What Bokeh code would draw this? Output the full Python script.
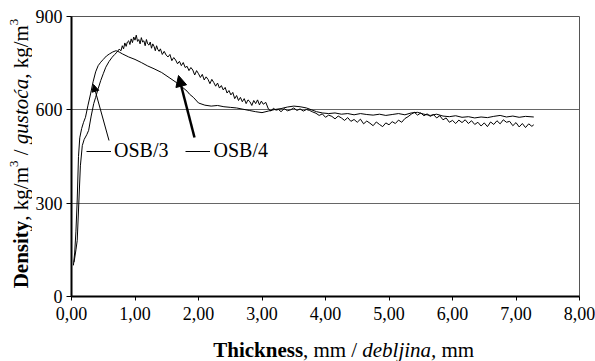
import math
from bokeh.plotting import figure
from bokeh.layouts import row, column
from bokeh.models import (FixedTicker, Label, Arrow, NormalHead, Legend, LegendItem, Range1d)
from bokeh.embed import file_html
from bokeh.resources import INLINE

# ---------------- data ----------------
x_ticks = [0, 1, 2, 3, 4, 5, 6, 7, 8]
x_tick_labels = ["0,00", "1,00", "2,00", "3,00", "4,00", "5,00", "6,00", "7,00", "8,00"]
y_ticks = [0, 300, 600, 900]
series_names = ["OSB/3", "OSB/4"]

osb3_x = [0.03, 0.05, 0.07, 0.09, 0.11, 0.13, 0.16, 0.19, 0.22, 0.26, 0.30, 0.34, 0.38, 0.42,
          0.46, 0.50, 0.55, 0.60, 0.65, 0.70, 0.75, 0.80, 0.90, 1.00, 1.10, 1.20, 1.30, 1.42,
          1.55, 1.65, 1.75, 1.82, 1.86, 1.92, 2.00, 2.10, 2.20, 2.30, 2.40, 2.50, 2.60, 2.70,
          2.80, 2.90, 3.00, 3.10, 3.20, 3.30, 3.40, 3.50, 3.60, 3.70, 3.78, 3.86, 3.95, 4.05,
          4.15, 4.25, 4.35, 4.45, 4.55, 4.65, 4.75, 4.85, 4.95, 5.05, 5.15, 5.25, 5.35, 5.45,
          5.55, 5.65, 5.75, 5.85, 5.95, 6.05, 6.15, 6.25, 6.35, 6.45, 6.55, 6.65, 6.75, 6.85,
          6.95, 7.05, 7.15, 7.28]
osb3_y = [100, 140, 210, 310, 450, 510, 540, 560, 576, 615, 651, 690, 722, 742,
          753, 762, 773, 780, 786, 790, 786, 780, 770, 762, 752, 741, 732, 720,
          702, 688, 672, 660, 650, 640, 622, 615, 612, 614, 610, 608, 606, 602,
          598, 594, 591, 596, 601, 604, 609, 612, 610, 606, 600, 594, 590, 588,
          590, 586, 588, 584, 588, 585, 583, 586, 582, 585, 588, 584, 590, 592,
          586, 582, 586, 580, 578, 581, 576, 578, 574, 577, 575, 579, 582, 577,
          580, 576, 579, 577]

osb4_x = [0.04, 0.07, 0.09, 0.115, 0.14, 0.17, 0.20, 0.24, 0.27, 0.31, 0.35, 0.38, 0.42, 0.46,
          0.50, 0.54, 0.59, 0.64, 0.68, 0.72, 0.75, 0.78, 0.80, 0.82, 0.84, 0.86, 0.88, 0.90,
          0.92, 0.94, 0.96, 0.98, 1.00, 1.02, 1.04, 1.06, 1.08, 1.10, 1.12, 1.14, 1.16, 1.18,
          1.20, 1.22, 1.24, 1.26, 1.28, 1.30, 1.32, 1.34, 1.36, 1.38, 1.40, 1.43, 1.46, 1.49,
          1.52, 1.55, 1.58, 1.61, 1.64, 1.67, 1.70, 1.73, 1.76, 1.79, 1.82, 1.85, 1.88, 1.91,
          1.94, 1.97, 2.00, 2.03, 2.06, 2.09, 2.12, 2.15, 2.18, 2.21, 2.24, 2.27, 2.30, 2.33,
          2.36, 2.39, 2.42, 2.45, 2.48, 2.51, 2.54, 2.57, 2.60, 2.63, 2.66, 2.69, 2.72, 2.75,
          2.78, 2.81, 2.84, 2.87, 2.90, 2.93, 2.96, 2.99, 3.02, 3.06, 3.10, 3.14, 3.18, 3.22,
          3.26, 3.30, 3.35, 3.40, 3.45, 3.50, 3.55, 3.60, 3.65, 3.70, 3.75, 3.80, 3.85, 3.90,
          3.95, 4.00, 4.05, 4.10, 4.15, 4.20, 4.25, 4.30, 4.35, 4.40, 4.45, 4.50, 4.55, 4.60,
          4.65, 4.70, 4.75, 4.80, 4.85, 4.90, 4.95, 5.00, 5.05, 5.10, 5.15, 5.20, 5.25, 5.30,
          5.35, 5.40, 5.45, 5.50, 5.55, 5.60, 5.65, 5.70, 5.75, 5.80, 5.85, 5.90, 5.95, 6.00,
          6.05, 6.10, 6.15, 6.20, 6.25, 6.30, 6.35, 6.40, 6.45, 6.50, 6.55, 6.60, 6.65, 6.70,
          6.75, 6.80, 6.85, 6.90, 6.95, 7.00, 7.05, 7.10, 7.15, 7.20, 7.25, 7.28]
osb4_y = [110, 150, 180, 300, 420, 485, 505, 520, 534, 580, 620, 640, 668, 694,
          716, 737, 755, 769, 778, 786, 795, 790, 806, 796, 815, 804, 818, 822,
          810, 828, 816, 834, 824, 840, 820, 826, 812, 832, 818, 822, 806, 826,
          812, 808, 818, 798, 812, 804, 790, 806, 794, 788, 796, 778, 788, 776,
          770, 778, 758, 768, 760, 748, 756, 742, 752, 736, 740, 726, 736, 728,
          712, 726, 716, 704, 714, 696, 706, 698, 684, 698, 688, 676, 686, 670,
          678, 664, 672, 654, 662, 648, 656, 636, 646, 630, 640, 626, 636, 620,
          632, 626, 614, 630, 620, 632, 616, 628, 618, 624, 603, 596, 605, 599,
          601, 594, 604, 597, 600, 606, 598, 603, 596, 601, 598, 593, 589, 582,
          587, 576, 583, 579, 571, 580, 574, 566, 575, 563, 569, 560, 570, 555,
          564, 557, 549, 561, 553, 546, 558, 552, 562, 556, 567, 560, 572, 578,
          586, 592, 583, 590, 581, 587, 579, 585, 574, 581, 568, 574, 560, 566,
          556, 567, 559, 568, 556, 565, 553, 560, 548, 558, 546, 561, 553, 565,
          555, 568, 560, 563, 549, 559, 545, 556, 543, 555, 547, 552]

# ---------------- layout geometry (page pixels) ----------------
FONT = "Liberation Serif"
YL_W = 32                   # strip holding the rotated y title
MAIN_W, MAIN_H = 563, 336
FRAME_L, FRAME_R, FRAME_T, FRAME_B = 70, 578, 16, 296
XL_H = 361 - MAIN_H
BASE_FIX = 7                # Bokeh draws the alphabetic baseline ~7px further out

# ---------------- main chart ----------------
p = figure(width=MAIN_W, height=MAIN_H, frame_width=FRAME_R - FRAME_L,
           frame_height=FRAME_B - FRAME_T,
           x_range=Range1d(0, 8), y_range=Range1d(0, 900),
           output_backend="svg", toolbar_location=None,
           min_border_left=FRAME_L - YL_W, min_border_right=595 - FRAME_R,
           min_border_top=FRAME_T, min_border_bottom=MAIN_H - FRAME_B)
p.background_fill_color = "white"
p.border_fill_color = "white"
p.outline_line_color = "#555555"
p.outline_line_width = 1

p.xgrid.visible = False
p.ygrid.ticker = FixedTicker(ticks=[300, 600])
p.ygrid.grid_line_color = "#666666"
p.ygrid.grid_line_width = 1

xa = p.xaxis[0]
xa.ticker = FixedTicker(ticks=x_ticks)
xa.major_label_overrides = {t: s for t, s in zip(x_ticks, x_tick_labels)}
ya = p.yaxis[0]
ya.ticker = FixedTicker(ticks=y_ticks)
for ax, tout, stand in ((xa, 4, 6), (ya, 5, 4)):
    ax.axis_line_color = "black"
    ax.axis_line_width = 2
    ax.major_tick_out = tout
    ax.major_tick_in = 0
    ax.major_tick_line_color = "black"
    ax.minor_tick_line_color = None
    ax.major_label_text_font = FONT
    ax.major_label_text_font_size = "18px"
    ax.major_label_text_color = "black"
    ax.major_label_standoff = stand

r3 = p.line(osb3_x, osb3_y, line_color="black", line_width=1)
r4 = p.line(osb4_x, osb4_y, line_color="black", line_width=1)

legend = Legend(items=[LegendItem(label=series_names[0], renderers=[r3]),
                       LegendItem(label=series_names[1], renderers=[r4])],
                orientation="horizontal", location=(15, 134),
                glyph_width=25, glyph_height=20, label_standoff=3, spacing=17,
                padding=0, margin=0, border_line_color=None, background_fill_alpha=0,
                label_text_font=FONT, label_text_font_size="20px", label_text_color="black")
p.add_layout(legend)

def dx(px):
    return (px - FRAME_L) / 63.5

def dy(py):
    return (FRAME_B - py) * 900 / 280

p.add_layout(Arrow(end=NormalHead(size=7, fill_color="black", line_color="black", line_width=1),
                   x_start=dx(107.5), y_start=dy(140), x_end=dx(92), y_end=dy(84),
                   line_color="black", line_width=1))
p.add_layout(Arrow(end=NormalHead(size=11, fill_color="black", line_color="black", line_width=1),
                   x_start=dx(193), y_start=dy(137), x_end=dx(177), y_end=dy(75),
                   line_color="black", line_width=2.5))

def strip(w, h, xr, yr):
    f = figure(width=w, height=h, x_range=Range1d(*xr), y_range=Range1d(*yr),
               output_backend="svg", toolbar_location=None,
               x_axis_location=None, y_axis_location=None,
               min_border=0, min_border_left=0, min_border_right=0,
               min_border_top=0, min_border_bottom=0)
    f.xgrid.visible = False
    f.ygrid.visible = False
    f.outline_line_color = None
    f.background_fill_color = "white"
    f.border_fill_color = "white"
    return f

FS = 21
SP = 0.25   # width of a space (em)

# ---------------- x title strip (frame aligned with main frame; page px coords) ----------------
xs = strip(MAIN_W, XL_H, (FRAME_L, FRAME_R), (361, MAIN_H))
xpieces = [("Thickness", "bold", 4.279), (", mm /", "normal", 2.584), ("", "normal", SP),
           ("debljina,", "italic", 3.528), ("", "normal", SP), ("mm", "normal", 1.556)]
cx = 212.0
for txt, style, em in xpieces:
    if txt:
        xs.add_layout(Label(x=cx, y=356 - BASE_FIX, text=txt, text_font=FONT,
                            text_font_size=f"{FS}px", text_font_style=style,
                            text_align="left", text_baseline="alphabetic", text_color="black"))
    cx += em * FS

# ---------------- y title strip (page px coords) ----------------
ys = strip(YL_W, 361, (0, YL_W), (361, 0))
ypieces = [("Density", "bold", 3.222, FS, 0), (", kg/m", "normal", 2.556, FS, 0),
           ("3", "normal", 0.5, 13, 7), ("", "normal", SP, FS, 0),
           ("/", "normal", 0.278, FS, 0), ("", "normal", SP, FS, 0),
           ("gustoća,", "italic", 3.361, FS, 0), ("", "normal", SP, FS, 0),
           ("kg/m", "normal", 2.056, FS, 0), ("3", "normal", 0.5, 13, 7)]
total = sum(em * fs for _, _, em, fs, _ in ypieces)
cy = 153 + total / 2
base_x = 27 - BASE_FIX
for txt, style, em, fs, raise_ in ypieces:
    if txt:
        ys.add_layout(Label(x=base_x - raise_, y=cy, text=txt, text_font=FONT,
                            text_font_size=f"{fs}px", text_font_style=style, angle=math.pi / 2,
                            text_align="left", text_baseline="alphabetic", text_color="black"))
    cy -= em * fs

layout = row(ys, column(p, xs, spacing=0), spacing=0)
open("out.html", "w").write(file_html(layout, INLINE))
